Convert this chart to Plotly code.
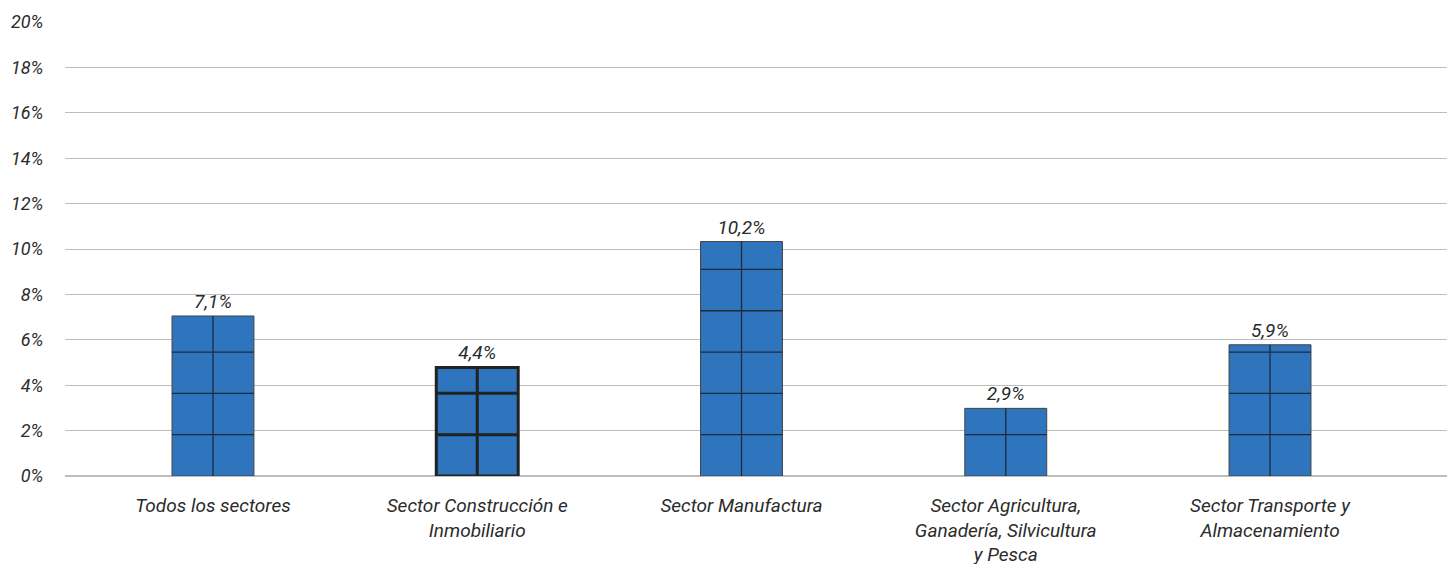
import plotly.graph_objects as go

categories = ["Todos los sectores", "Sector Construcción e<br>Inmobiliario", "Sector Manufactura",
              "Sector Agricultura,<br>Ganadería, Silvicultura<br>y Pesca", "Sector Transporte y<br>Almacenamiento"]
bar_heights = [7.05, 4.78, 10.33, 2.98, 5.78]
bar_labels = ["7,1%", "4,4%", "10,2%", "2,9%", "5,9%"]
y_ticks = [0, 2, 4, 6, 8, 10, 12, 14, 16, 18, 20]
y_tick_text = [f"{v}%" for v in y_ticks]

BAR_W = 0.31
TILE = 1.82
BLUE = "#2E75BE"
FONT = dict(family="Roboto", size=18, color="#2b2b2b", style="italic")
LABEL_FONT = dict(family="Roboto", size=19, color="#2b2b2b", style="italic")
CAT_FONT = dict(family="Roboto", size=19, color="#2b2b2b", style="italic")

xs = list(range(len(categories)))

fig = go.Figure()
fig.add_trace(go.Bar(
    x=xs, y=bar_heights, width=BAR_W,
    marker=dict(color=BLUE,
                line=dict(color=["#444444", "#222222", "#444444", "#444444", "#444444"],
                          width=[1, 3, 1, 1, 1])),
    text=bar_labels, textposition="outside", textfont=LABEL_FONT, cliponaxis=False,
    hoverinfo="skip"
))

# inner tile grid drawn from each bar's height
for i, h in zip(xs, bar_heights):
    gx, gy = [i, i, None], [0, h, None]
    k = 1
    while k * TILE < h - 0.05:
        gx += [i - BAR_W / 2, i + BAR_W / 2, None]
        gy += [k * TILE, k * TILE, None]
        k += 1
    thick = i == 1
    fig.add_trace(go.Scatter(x=gx, y=gy, mode="lines",
                             line=dict(color="#222222" if thick else "#1d2b3a", width=3 if thick else 1.3),
                             hoverinfo="skip", showlegend=False))

fig.update_layout(
    width=1455, height=564,
    margin=dict(l=57, r=8, t=14, b=96),
    plot_bgcolor="white", paper_bgcolor="white",
    showlegend=False,
    font=FONT,
    xaxis=dict(range=[-0.56, 4.7], tickmode="array", tickvals=xs, ticktext=categories,
               showgrid=False, zeroline=False, tickfont=CAT_FONT, ticks="outside", ticklen=12,
               tickcolor="rgba(0,0,0,0)", automargin=False),
    yaxis=dict(range=[0, 20], tickmode="array", tickvals=y_ticks, ticktext=y_tick_text, showgrid=True,
               gridcolor="#bdbdbd", gridwidth=1, zeroline=True, zerolinecolor="#bdbdbd",
               tickfont=FONT, ticks="outside", ticklen=17, tickcolor="rgba(0,0,0,0)",
               automargin=False),
)

fig.write_html("out.html")
